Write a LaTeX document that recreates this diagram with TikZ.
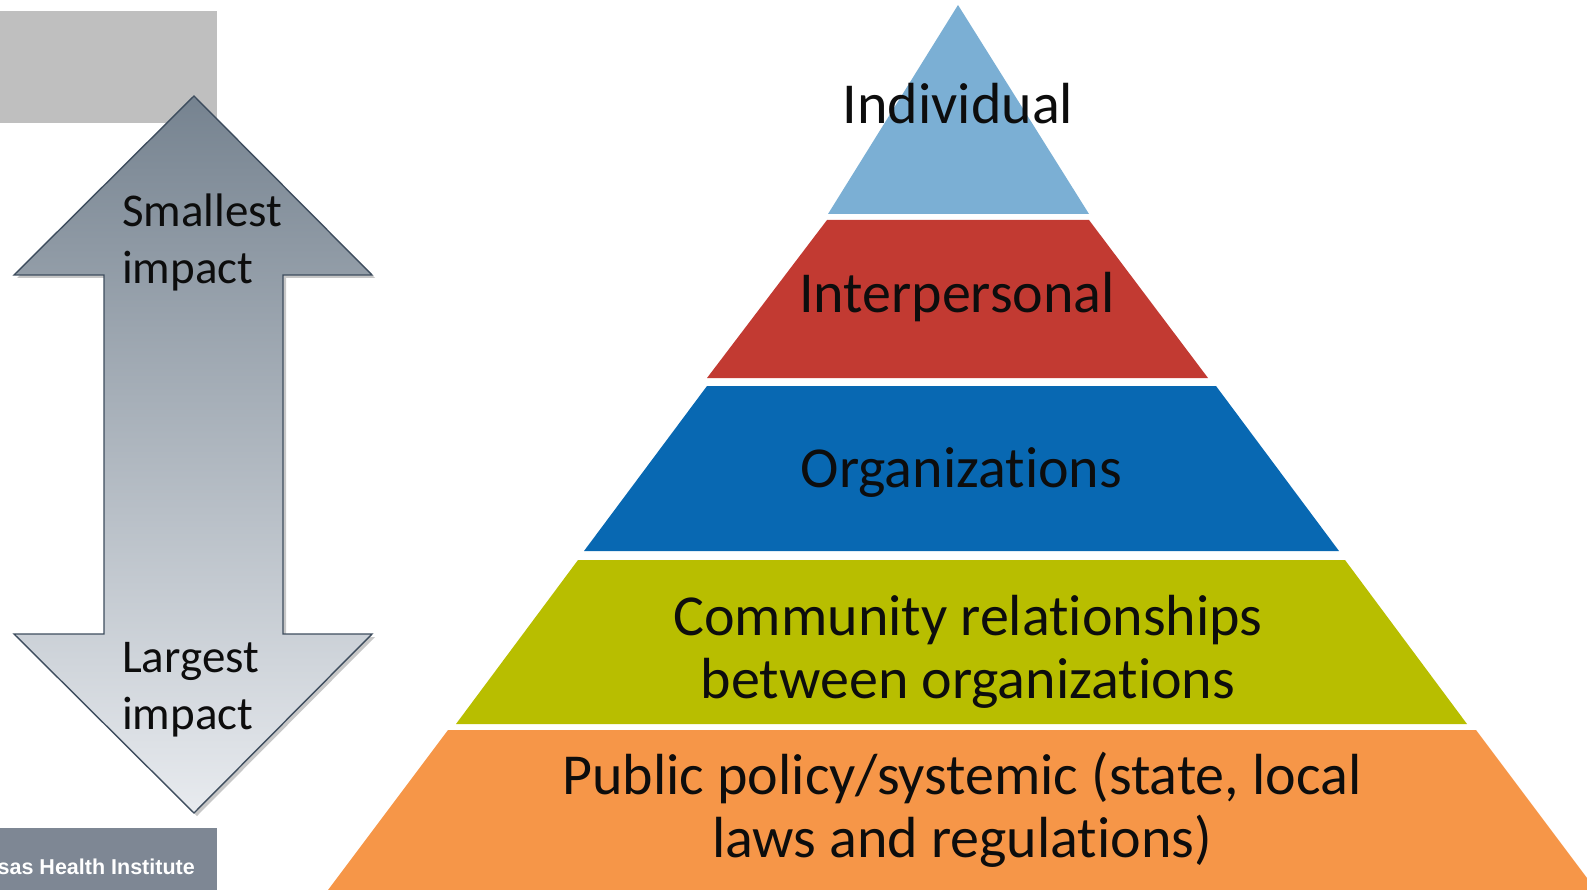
\documentclass[tikz,border=0pt]{standalone}
\usepackage{fontspec}
\setmainfont{Carlito}[Ligatures={NoCommon}]
\newfontfamily\arialfont{Liberation Sans}
\definecolor{boxgray}{RGB}{191,191,191}
\definecolor{footgray}{RGB}{126,135,148}
\definecolor{arrowtop}{RGB}{118,131,144}
\definecolor{arrowbot}{RGB}{232,235,239}
\definecolor{arrowline}{RGB}{62,77,94}
\definecolor{lvlA}{RGB}{123,175,212}
\definecolor{lvlB}{RGB}{194,58,50}
\definecolor{lvlC}{RGB}{8,104,178}
\definecolor{lvlD}{RGB}{184,190,0}
\definecolor{lvlE}{RGB}{246,150,72}
\definecolor{txt}{RGB}{13,13,13}
\begin{document}
\begin{tikzpicture}[x=1pt,y=-1pt,
  pyrtext/.style={inner sep=0pt, anchor=base, text=txt, font=\fontsize{58}{63}\selectfont},
  arrtext/.style={inner sep=0pt, anchor=base west, text=txt, font=\fontsize{47}{57}\selectfont},
  foottext/.style={inner sep=0pt, anchor=base east, text=white, font=\arialfont\bfseries\fontsize{21.5}{24}\selectfont},
]
\useasboundingbox (0,0) rectangle (1587,890);
\clip (0,0) rectangle (1587,890);

% left decorative boxes
\fill[boxgray] (0,11) rectangle (217,123);
\fill[footgray] (0,828) rectangle (217,890);
\node[foottext] (inst) at (195,874) {sas Health Institute};

% double arrow: shadow then body
\fill[black, opacity=0.22] ([shift={(3,3)}]194,96) -- ([shift={(3,3)}]372,275) -- ([shift={(3,3)}]283,275) -- ([shift={(3,3)}]283,634) -- ([shift={(3,3)}]372,634) -- ([shift={(3,3)}]194,813) -- ([shift={(3,3)}]14,634) -- ([shift={(3,3)}]104,634) -- ([shift={(3,3)}]104,275) -- ([shift={(3,3)}]14,275) -- cycle;
\path[draw=arrowline, line width=1.4pt, line join=miter, top color=arrowtop, bottom color=arrowbot]
  (194,96) -- (372,275) -- (283,275) -- (283,634) -- (372,634) -- (194,813)
  -- (14,634) -- (104,634) -- (104,275) -- (14,275) -- cycle;
\node[arrtext] (small1) at (122,227) {Smallest};
\node[arrtext] (small2) at (122,284) {impact};
\node[arrtext] (large1) at (122,672) {Largest};
\node[arrtext] (large2) at (122,729) {impact};

% pyramid levels
\fill[lvlA] (958,5) -- (1089,214) -- (828,214) -- cycle;
\fill[lvlB] (827,220) -- (1089,220) -- (1208,378) -- (707,378) -- cycle;
\fill[lvlC] (707,386) -- (1216,386) -- (1339,551) -- (584,551) -- cycle;
\fill[lvlD] (578,560) -- (1345,560) -- (1467,724) -- (456,724) -- cycle;
\fill[lvlE] (448,730) -- (1476,730) -- (1596,890) -- (328,890) -- cycle;

% pyramid labels
\node[pyrtext] (indiv) at (958,124) {Individual};
\node[pyrtext] (inter) at (957,313) {Interpersonal};
\node[pyrtext] (orgs) at (961.5,487) {Organizations};
\node[pyrtext] (comm1) at (968,635) {Community relationships};
\node[pyrtext] (comm2) at (968,698) {between organizations};
\node[pyrtext] (pub1) at (962,794) {Public policy/systemic (state, local};
\node[pyrtext] (pub2) at (962,857) {laws and regulations)};
\end{tikzpicture}
\end{document}
